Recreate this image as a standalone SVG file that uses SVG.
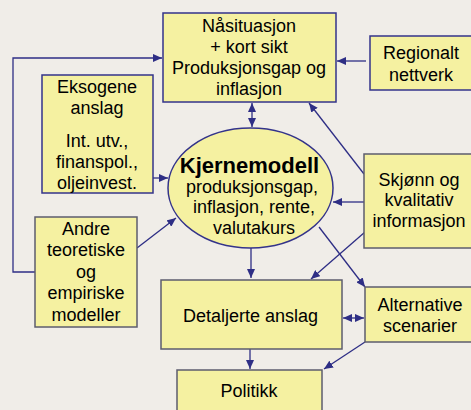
<svg xmlns="http://www.w3.org/2000/svg" width="471" height="410" viewBox="0 0 471 410">
<style>
.box{fill:#F5F1A1;stroke:#33338A;stroke-width:1.5}
.gbox{fill:#F5F1A1;stroke:#5C5C6E;stroke-width:1.5}
.t{font-family:"Liberation Sans",Arial,sans-serif;font-size:18px;fill:#000;text-anchor:middle}
.b{font-weight:bold;font-size:22px}
.c{fill:none;stroke:#2E2E85;stroke-width:1.3}
</style>
<defs>
<marker id="ah" markerUnits="userSpaceOnUse" markerWidth="10" markerHeight="8" refX="9" refY="4" orient="auto-start-reverse">
<path d="M0,0 L9,4 L0,8 Z" fill="#2E2E85"/>
</marker>
</defs>
<rect width="471" height="410" fill="#F0EDE8"/>
<g id="connectors">
<polyline class="c" points="35,272 13,272 13,58 162,58" marker-end="url(#ah)"/>
<line class="c" x1="153" y1="178" x2="168" y2="178" marker-end="url(#ah)"/>
<line class="c" x1="137" y1="248" x2="176" y2="218" marker-end="url(#ah)"/>
<line class="c" x1="252" y1="103" x2="252" y2="127" marker-start="url(#ah)" marker-end="url(#ah)"/>
<line class="c" x1="366" y1="61" x2="337" y2="61" marker-end="url(#ah)"/>
<line class="c" x1="364" y1="174" x2="309" y2="103" marker-end="url(#ah)"/>
<line class="c" x1="364" y1="202" x2="333" y2="202" marker-end="url(#ah)"/>
<line class="c" x1="365" y1="232" x2="311" y2="279" marker-end="url(#ah)"/>
<line class="c" x1="319" y1="227" x2="365" y2="287" marker-end="url(#ah)"/>
<line class="c" x1="251" y1="248" x2="251" y2="278" marker-end="url(#ah)"/>
<line class="c" x1="343" y1="318" x2="364" y2="318" marker-start="url(#ah)" marker-end="url(#ah)"/>
<line class="c" x1="250" y1="349" x2="250" y2="369" marker-end="url(#ah)"/>
<line class="c" x1="365" y1="342" x2="324" y2="369" marker-end="url(#ah)"/>
</g>
<g id="naasituasjon">
<rect class="box" x="163" y="13" width="173" height="89"/>
<text class="t" x="249" y="32">Nåsituasjon</text>
<text class="t" x="249" y="53">+ kort sikt</text>
<text class="t" x="249" y="74">Produksjonsgap og</text>
<text class="t" x="249" y="95">inflasjon</text>
</g>
<g id="regionalt">
<rect class="box" x="370" y="36" width="103" height="54"/>
<text class="t" x="421" y="59">Regionalt</text>
<text class="t" x="421" y="81">nettverk</text>
</g>
<g id="eksogene">
<rect class="box" x="42" y="75" width="111" height="118"/>
<text class="t" x="97" y="93">Eksogene</text>
<text class="t" x="97" y="114">anslag</text>
<text class="t" x="97" y="147">Int. utv.,</text>
<text class="t" x="97" y="168">finanspol.,</text>
<text class="t" x="97" y="189">oljeinvest.</text>
</g>
<g id="kjernemodell">
<ellipse class="box" cx="250.5" cy="188" rx="82.5" ry="60"/>
<text class="t b" x="249.5" y="173">Kjernemodell</text>
<text class="t" x="252" y="193">produksjonsgap,</text>
<text class="t" x="254" y="213">inflasjon, rente,</text>
<text class="t" x="254" y="234">valutakurs</text>
</g>
<g id="skjonn">
<rect class="gbox" x="364" y="154" width="109" height="94"/>
<text class="t" x="419" y="186">Skjønn og</text>
<text class="t" x="419" y="206">kvalitativ</text>
<text class="t" x="419" y="227">informasjon</text>
</g>
<g id="andre">
<rect class="gbox" x="35" y="217" width="102" height="110"/>
<text class="t" x="86" y="235">Andre</text>
<text class="t" x="86" y="256">teoretiske</text>
<text class="t" x="86" y="278">og</text>
<text class="t" x="86" y="299">empiriske</text>
<text class="t" x="86" y="321">modeller</text>
</g>
<g id="detaljerte">
<rect class="gbox" x="161" y="280" width="181" height="69"/>
<text class="t" x="250.5" y="322">Detaljerte anslag</text>
</g>
<g id="alternative">
<rect class="gbox" x="365" y="287" width="108" height="55"/>
<text class="t" x="420" y="311">Alternative</text>
<text class="t" x="420" y="332">scenarier</text>
</g>
<g id="politikk">
<rect class="gbox" x="177" y="370" width="145" height="45"/>
<text class="t" x="249" y="397">Politikk</text>
</g>
</svg>
